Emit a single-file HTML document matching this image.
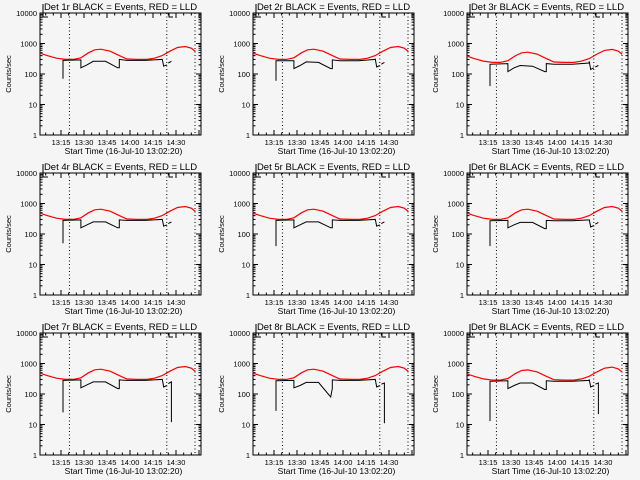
<!DOCTYPE html>
<html><head><meta charset="utf-8"><style>
html,body{margin:0;padding:0;background:#f5f5f5}
svg{display:block;font-family:"Liberation Sans",sans-serif}
</style></head><body>
<svg id="fig" width="640" height="480" viewBox="0 0 640 480"></svg>
<script>
const panelTitles=["Det 1r","Det 2r","Det 3r","Det 4r","Det 5r","Det 6r","Det 7r","Det 8r","Det 9r"];
const tickTimes=[15,30,45,60,75,90];
const tickLabels=["13:15","13:30","13:45","14:00","14:15","14:30"];
const yTicks=[1,10,100,1000,10000];
const yTickLabels=["1","10","100","1000","10000"];
const markerTimes=[20.5,84,102.4];
const redT=[1.3,6,12,18,23,28,33,37,41,47,53,58,65,71,76,81,86,91,96,100,102.5];
const redV=[480,400,330,300,300,340,500,620,650,560,400,310,300,300,330,400,560,740,800,700,550];
const redScale=[1,1,0.8,1,1,1,1,1,0.95];
const blackT=[16.3,16.3,28,28,32,36,44,52,53,53,58,70,81,81,82,84,null,85,87,87];
const black1=[70,280,290,160,200,260,260,160,160,300,280,280,300,310,180,200,null,230,260,260];
const black2=[60,270,270,150,190,250,240,150,150,290,270,270,300,320,170,190,null,210,240,240];
const black3=[40,210,220,120,160,190,180,120,120,220,210,210,230,260,140,160,null,170,190,190];
const black4=[50,280,290,160,200,250,250,160,160,290,280,280,300,310,180,200,null,220,250,250];
const black5=[40,280,290,160,200,250,250,160,160,290,280,280,300,310,180,200,null,220,250,250];
const black6=[40,270,280,160,200,240,240,150,150,280,270,270,290,300,170,190,null,210,240,240];
const black7=[25,280,290,160,200,250,250,150,150,290,280,280,300,310,170,190,null,220,250,12];
const black8=[28,270,280,160,190,240,240,80,150,290,280,280,300,310,170,190,null,210,230,11];
const black9=[13,260,270,150,190,230,230,140,140,270,260,260,280,300,170,190,null,210,230,22];
const blackSets=[black1,black2,black3,black4,black5,black6,black7,black8,black9];

const svg=document.getElementById('fig');
const NS='http://www.w3.org/2000/svg';
function mk(tag,attrs,parent){const e=document.createElementNS(NS,tag);for(const k in attrs)e.setAttribute(k,attrs[k]);parent.appendChild(e);return e;}
const L=40,R=201,T=13,B=135;
function xs(t){return 61+(t-15)*23/15;}
function ys(v){return B-Math.log10(v)*30.5;}

for(let p=0;p<9;p++){
  const ox=[0,213,427][p%3], oy=[0,160,320][Math.floor(p/3)];
  const g=mk('g',{transform:`translate(${ox},${oy})`},svg);
  
  
  const ttl=mk('text',{x:(L+R)/2,y:10,'font-size':'9.5','text-anchor':'middle',fill:'#000'},g);
  ttl.textContent=panelTitles[p]+" BLACK = Events, RED = LLD";
  
  
  const cm=mk('path',{d:'M43,4 L43,17 L48,17 M175,13 L169,13 L169,17 L173,17',stroke:'#000','stroke-width':'1',fill:'none'},g);
  
  
  const box=mk('rect',{x:L,y:T,width:R-L,height:B-T,fill:'none',stroke:'#000','stroke-width':'1'},g);
  
  
  for(let i=0;i<yTicks.length;i++){
    const y=ys(yTicks[i]);
    mk('line',{x1:L,x2:L+5,y1:y,y2:y,stroke:'#000'},g);
    mk('line',{x1:R-5,x2:R,y1:y,y2:y,stroke:'#000'},g);
    const tl=mk('text',{x:L-3,y:y+3,'font-size':'7.5','text-anchor':'end'},g);
    tl.textContent=yTickLabels[i];
    
    
    if(i<yTicks.length-1)for(let m=2;m<10;m++){const ym=ys(yTicks[i]*m);
      mk('line',{x1:L,x2:L+2.5,y1:ym,y2:ym,stroke:'#000'},g);
      mk('line',{x1:R-2.5,x2:R,y1:ym,y2:ym,stroke:'#000'},g);}
  }
  for(let t=5;t<=105;t+=5){const x=xs(t);if(x<L||x>R)continue;
    const len=(t%15===0)?5:2.5;
    mk('line',{x1:x,x2:x,y1:B,y2:B-len,stroke:'#000'},g);
    mk('line',{x1:x,x2:x,y1:T,y2:T+len,stroke:'#000'},g);}
  for(let i=0;i<tickTimes.length;i++){
    const xl=mk('text',{x:xs(tickTimes[i]),y:B+10,'font-size':'7.5','text-anchor':'middle'},g);
    xl.textContent=tickLabels[i];
    
    
  }
  const xt=mk('text',{x:(L+R)/2+3,y:B+19,'font-size':'8.5','text-anchor':'middle'},g);
  xt.textContent="Start Time (16-Jul-10 13:02:20)";
  
  
  const yt=mk('text',{x:0,y:0,'font-size':'7.5','text-anchor':'middle',transform:`translate(11,${(T+B)/2}) rotate(-90)`},g);
  yt.textContent="Counts/sec";
  
  
  for(const mt of markerTimes){
    const ml=mk('line',{x1:xs(mt),x2:xs(mt),y1:T,y2:B,stroke:'#000','stroke-dasharray':'1,2.5'},g);
    
    
  }
  let d='';
  for(let i=0;i<redT.length;i++){d+=(i?'L':'M')+xs(redT[i]).toFixed(1)+','+ys(redV[i]*redScale[p]).toFixed(1);}
  const rl=mk('path',{d:d,stroke:'#ff0000','stroke-width':'1.2',fill:'none'},g);
  
  
  const bv=blackSets[p];let bd='',pen=false;
  for(let i=0;i<blackT.length;i++){
    if(bv[i]===null||blackT[i]===null){pen=false;continue;}
    bd+=(pen?'L':'M')+xs(blackT[i]).toFixed(1)+','+ys(bv[i]).toFixed(1);pen=true;}
  const bl=mk('path',{d:bd,stroke:'#000','stroke-width':'1',fill:'none'},g);
  
  
}
</script>
</body></html>
